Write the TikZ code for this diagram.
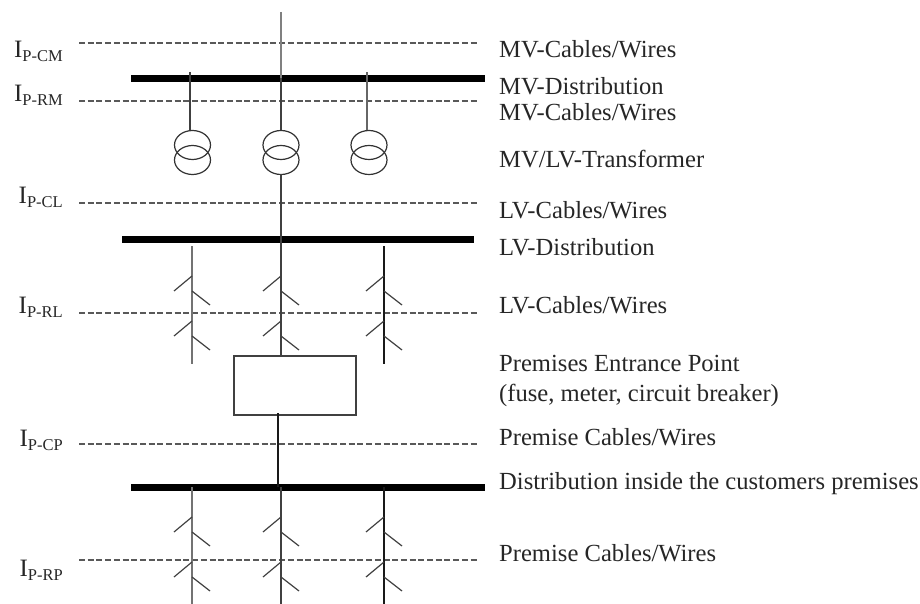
\documentclass[tikz,border=0pt]{standalone}
\usepackage{fontspec}
\setmainfont{Liberation Serif}
\usetikzlibrary{shapes.geometric,calc}
\newcommand{\cur}[1]{I\raisebox{-4pt}{\fontsize{16.5}{18}\selectfont #1}}
\tikzset{
  x=1pt,y=-1pt,
  busbar/.style={fill=black,draw=none,minimum height=7pt,inner sep=0pt,outer sep=0pt},
  feeder/.style={draw=black!75,line width=1.25pt},
  level/.style={draw=black!65,line width=1.2pt,dash pattern=on 6pt off 2.7pt},
  tick/.style={draw=black!75,line width=1.2pt},
  coil/.style={draw=black!80,line width=1.2pt,ellipse,minimum width=36pt,minimum height=29pt,inner sep=0pt,outer sep=0pt},
  desc/.style={anchor=base west,inner sep=0pt,font=\fontsize{24.6}{28}\selectfont,text=black!85},
  curr/.style={anchor=base east,inner sep=0pt,font=\fontsize{25}{28}\selectfont,text=black!85},
  cabinet/.style={draw=black!75,line width=1.3pt,minimum width=122pt,minimum height=59pt,inner sep=0pt,outer sep=0pt}
}
\newcommand{\ticks}[2]{%
  \coordinate (t1) at (#1,#2);
  \coordinate (t2) at ($(t1)+(-18,15)$);
  \coordinate (t3) at ($(t1)+(0,15)$);
  \coordinate (t4) at ($(t1)+(18,29)$);
  \draw[tick] (t1) -- (t2);
  \draw[tick] (t3) -- (t4);
}
\begin{document}
\begin{tikzpicture}
\useasboundingbox (0,0) rectangle (920,604);
% levels
\foreach \n/\y in {cm/43,rm/101,cl/203,rl/313,cp/444,rp/560}{
  \coordinate (l\n) at (79,\y);
  \coordinate (r\n) at (477,\y);
  \draw[level] (l\n) -- (r\n);
}
% buses
\node[busbar,minimum width=354pt] (busA) at (308,78.5) {};
\node[busbar,minimum width=352pt] (busB) at (298,239.5) {};
\node[busbar,minimum width=354pt] (busC) at (308,487.5) {};
% transformers
\foreach \n/\x in {a/192.5,b/281,c/369}{
  \node[coil] (up\n) at (\x,145) {};
  \node[coil] (lo\n) at (\x,160) {};
}
\coordinate (top) at (281,12);
\coordinate (mva) at (190,72);
\coordinate (mvc) at (367,72);
\coordinate (mvb) at (281,78);
\coordinate (mvae) at (190,130);
\coordinate (mvce) at (367,130);
\coordinate (lvb) at (281,239);
\draw[feeder,draw=black!50] (top) -- (mvb);
\draw[feeder] (mvb) -- (upb.north);
\draw[feeder] (mva) -- (mvae);
\draw[feeder,draw=black!60] (mvc) -- (mvce);
\draw[feeder] (lob.south) -- (lvb);
% LV feeders
\coordinate (lva) at (192,246);
\coordinate (lvc) at (384,246);
\coordinate (lvae) at (192,364);
\coordinate (lvbe) at (281,356);
\coordinate (lvce) at (384,364);
\node[cabinet] (box) at (295,385.5) {};
\coordinate (boxout) at (278,413);
\coordinate (busin) at (278,487);
\draw[feeder,draw=black!55] (lva) -- (lvae);
\draw[feeder] (lvb) -- (lvbe);
\draw[feeder,draw=black!90] (lvc) -- (lvce);
\draw[feeder,draw=black!90] (boxout) -- (busin);
% premises feeders
\coordinate (pa) at (192,487);
\coordinate (pb) at (281,487);
\coordinate (pc) at (384,487);
\coordinate (pae) at (192,604);
\coordinate (pbe) at (281,604);
\coordinate (pce) at (384,604);
\draw[feeder,draw=black!55] (pa) -- (pae);
\draw[feeder] (pb) -- (pbe);
\draw[feeder,draw=black!90] (pc) -- (pce);
% ticks
\foreach \x in {192,281,384}{
  \foreach \y in {276,321,517,562}{
    \ticks{\x}{\y}
  }
}
% left labels
\node[curr] (iCM) at (63,58) {\cur{P-CM}};
\node[curr] (iRM) at (63,102) {\cur{P-RM}};
\node[curr] (iCL) at (63,204) {\cur{P-CL}};
\node[curr] (iRL) at (63,313) {\cur{P-RL}};
\node[curr] (iCP) at (63,446) {\cur{P-CP}};
\node[curr] (iRP) at (63,576) {\cur{P-RP}};
% right labels
\node[desc] (d1) at (499,58) {MV-Cables/Wires};
\node[desc] (d2) at (499,95) {MV-Distribution};
\node[desc] (d3) at (499,120.7) {MV-Cables/Wires};
\node[desc] (d4) at (499,167.7) {MV/LV-Transformer};
\node[desc] (d5) at (499,218.7) {LV-Cables/Wires};
\node[desc] (d6) at (499,255) {LV-Distribution};
\node[desc] (d7) at (499,313) {LV-Cables/Wires};
\node[desc] (d8) at (499,371) {Premises Entrance Point};
\node[desc] (d9) at (499,401) {(fuse, meter, circuit breaker)};
\node[desc] (d10) at (499,445) {Premise Cables/Wires};
\node[desc] (d11) at (499,489) {Distribution inside the customers premises};
\node[desc] (d12) at (499,561) {Premise Cables/Wires};
\end{tikzpicture}
\end{document}
